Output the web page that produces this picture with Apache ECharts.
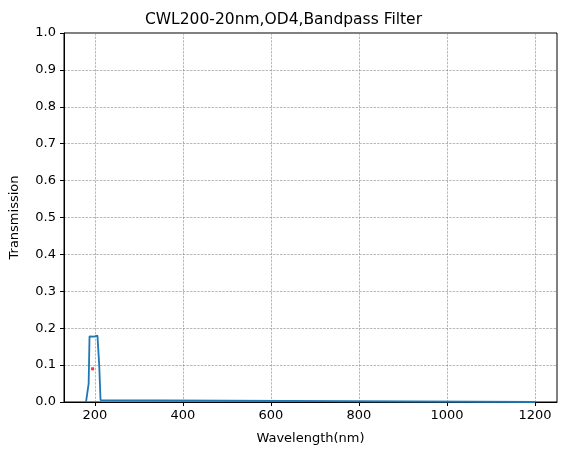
<!DOCTYPE html>
<html><head><meta charset="utf-8">
<script src="https://cdn.jsdelivr.net/npm/echarts@6/dist/echarts.min.js"></script>
<style>html,body{margin:0;padding:0;background:#fff}#c{width:567px;height:455px}</style>
</head><body><div id="c"></div>
<script>
const wavelengths = [180,184,186,188,190,198,206,208,210,213,216,1200];
const transmission = [0,0.003,0.05,0.178,0.18,0.177,0.18,0.18,0.1,0.005,0,0];
const markerPoint = [195,0.09];
const xTicks = [200,400,600,800,1000,1200];
const chart = echarts.init(document.getElementById('c'));
const font = 'DejaVu Sans';
const grid = {type:'dashed',color:'#888',width:0.6};
chart.setOption({
  animation:false,
  title:{text:'CWL200-20nm,OD4,Bandpass Filter',left:'center',top:7,textStyle:{fontFamily:font,fontSize:15.5,fontWeight:'normal',color:'#000'}},
  grid:{left:62,right:10,top:33,bottom:53,show:true,borderColor:'#000',borderWidth:1},
  xAxis:{type:'value',min:130,max:1250,name:'Wavelength(nm)',nameLocation:'middle',nameGap:30,
    nameTextStyle:{fontFamily:font,fontSize:13,color:'#000'},
    axisLine:{onZero:false,lineStyle:{color:'#000'}},
    axisTick:{customValues:xTicks,length:4,lineStyle:{color:'#000'}},
    axisLabel:{customValues:xTicks,fontFamily:font,fontSize:13,color:'#000',margin:7,formatter:v=>String(v)},
    splitLine:{show:true,lineStyle:grid}},
  yAxis:{type:'value',min:0,max:1,interval:0.1,name:'Transmission',nameLocation:'middle',nameGap:43,
    nameTextStyle:{fontFamily:font,fontSize:13,color:'#000'},
    axisLine:{show:true,lineStyle:{color:'#000'}},
    axisTick:{show:true,length:4,lineStyle:{color:'#000'}},
    axisLabel:{fontFamily:font,fontSize:13,color:'#000',formatter:v=>v.toFixed(1)},
    splitLine:{show:true,lineStyle:grid}},
  series:[
    {type:'line',data:wavelengths.map((w,i)=>[w,transmission[i]]),showSymbol:false,lineStyle:{color:'#1f77b4',width:1.8},z:3},
    {type:'scatter',data:[markerPoint],symbol:'rect',symbolSize:3,itemStyle:{color:'red'},z:4}
  ]
});
</script></body></html>
